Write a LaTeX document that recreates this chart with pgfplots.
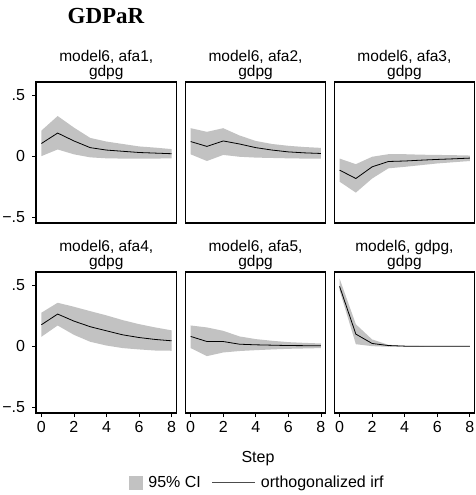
\documentclass[border=0pt]{standalone}
\usepackage{pgfplots}
\pgfplotsset{compat=1.18}
\usepackage{fontspec}
\setmainfont{Liberation Sans}
\newfontfamily\titlefont{Liberation Serif}
\definecolor{cigray}{RGB}{194,194,194}

\pgfplotsset{
  irfpanel/.style={
    scale only axis, width=140.5pt, height=141pt,
    anchor=north west,
    xmin=-0.33, xmax=8.3, ymin=-0.55, ymax=0.61,
    axis line style={black, line width=1.1pt},
    tick style={black, line width=0.8pt},
    major tick length=4pt, tick align=outside, tick pos=left,
    /pgf/number format/assume math mode=true,
    ticklabel style={font=\fontsize{16}{16}\selectfont},
    title style={font=\fontsize{15.5}{15}\selectfont, align=center,
      at={(0.5,1)}, anchor=south, inner sep=0pt, yshift=-3.5pt},
    xtick=\empty, ytick=\empty,
  },
  leftcol/.style={ytick={-0.5,0,0.5}, yticklabels={−.5,0,.5},
    yticklabel style={xshift=-3.5pt}},
  bottomrow/.style={xtick={0,2,4,6,8}, xticklabels={0,2,4,6,8},
    xticklabel style={yshift=-1pt}},
  band/.style={fill=cigray, draw=none,
    legend image code/.code={\fill[cigray] (0pt,-7pt) rectangle (14pt,7pt);}},
  irf/.style={black, line width=0.8pt,
    legend image code/.code={\draw[black!70, line width=1pt] (0pt,0pt) -- (43pt,0pt);}},
}

\begin{document}
\begin{tikzpicture}
\path[use as bounding box] (0,0) rectangle (475pt,-495pt);
\node[anchor=base] at (106pt,-23.3pt) {\titlefont\bfseries\fontsize{23}{23}\selectfont GDPaR};

% afa1
\begin{axis}[irfpanel, leftcol, at={(36pt,-82pt)}, title={model6, afa1,\\gdpg}]
\addplot[band] coordinates {(0,0.210) (1,0.330) (2,0.235) (3,0.150) (4,0.120) (5,0.100) (6,0.080) (7,0.070) (8,0.058)
  (8,-0.018) (7,-0.020) (6,-0.020) (5,-0.020) (4,-0.018) (3,-0.010) (2,0.015) (1,0.055) (0,0.000)} -- cycle;
\addplot[irf] coordinates {(0,0.104) (1,0.190) (2,0.125) (3,0.070) (4,0.050) (5,0.040) (6,0.030) (7,0.025) (8,0.020)};
\end{axis}

% afa2
\begin{axis}[irfpanel, at={(185.3pt,-82pt)}, title={model6, afa2,\\gdpg}]
\addplot[band] coordinates {(0,0.230) (1,0.200) (2,0.230) (3,0.170) (4,0.125) (5,0.100) (6,0.085) (7,0.075) (8,0.068)
  (8,-0.020) (7,-0.020) (6,-0.018) (5,-0.015) (4,-0.012) (3,-0.005) (2,0.010) (1,-0.040) (0,0.015)} -- cycle;
\addplot[irf] coordinates {(0,0.120) (1,0.080) (2,0.125) (3,0.100) (4,0.070) (5,0.050) (6,0.035) (7,0.027) (8,0.022)};
\end{axis}

% afa3
\begin{axis}[irfpanel, at={(334.2pt,-82pt)}, title={model6, afa3,\\gdpg}]
\addplot[band] coordinates {(0,-0.020) (1,-0.066) (2,-0.005) (3,0.016) (4,0.016) (5,0.012) (6,0.010) (7,0.008) (8,0.005)
  (8,-0.040) (7,-0.050) (6,-0.060) (5,-0.074) (4,-0.088) (3,-0.100) (2,-0.184) (1,-0.300) (0,-0.210)} -- cycle;
\addplot[irf] coordinates {(0,-0.115) (1,-0.184) (2,-0.088) (3,-0.044) (4,-0.040) (5,-0.033) (6,-0.027) (7,-0.022) (8,-0.016)};
\end{axis}

% afa4
\begin{axis}[irfpanel, leftcol, bottomrow, at={(36pt,-272pt)}, title={model6, afa4,\\gdpg}]
\addplot[band] coordinates {(0,0.275) (1,0.357) (2,0.324) (3,0.288) (4,0.253) (5,0.214) (6,0.181) (7,0.154) (8,0.130)
  (8,-0.038) (7,-0.036) (6,-0.027) (5,-0.016) (4,0.005) (3,0.036) (2,0.093) (1,0.170) (0,0.077)} -- cycle;
\addplot[irf] coordinates {(0,0.176) (1,0.264) (2,0.206) (3,0.160) (4,0.126) (5,0.093) (6,0.071) (7,0.055) (8,0.044)};
\end{axis}

% afa5
\begin{axis}[irfpanel, bottomrow, at={(185.3pt,-272pt)}, title={model6, afa5,\\gdpg},
  legend style={at={(0.514,-0.494)}, anchor=center, draw=none, fill=none,
    legend columns=2, font=\fontsize{16}{16}\selectfont,
    /tikz/every odd column/.append style={column sep=3pt},
    /tikz/every even column/.append style={column sep=9pt}},
  legend cell align=left]
\addplot[band] coordinates {(0,0.170) (1,0.154) (2,0.126) (3,0.080) (4,0.058) (5,0.044) (6,0.033) (7,0.027) (8,0.022)
  (8,-0.016) (7,-0.019) (6,-0.022) (5,-0.027) (4,-0.033) (3,-0.040) (2,-0.052) (1,-0.082) (0,-0.016)} -- cycle;
\addplot[irf] coordinates {(0,0.080) (1,0.038) (2,0.038) (3,0.016) (4,0.011) (5,0.008) (6,0.005) (7,0.004) (8,0.003)};
\legend{95\% CI, orthogonalized irf}
\end{axis}

% gdpg
\begin{axis}[irfpanel, bottomrow, at={(334.2pt,-272pt)}, title={model6, gdpg,\\gdpg}]
\addplot[band] coordinates {(0,0.556) (1,0.180) (2,0.055) (3,0.011) (4,0.003) (5,0.001) (6,0.000) (7,0.000) (8,0.000)
  (8,-0.000) (7,-0.000) (6,-0.000) (5,-0.001) (4,-0.002) (3,-0.005) (2,0.000) (1,0.016) (0,0.460)} -- cycle;
\addplot[irf] coordinates {(0,0.492) (1,0.099) (2,0.022) (3,0.005) (4,0.000) (5,0.000) (6,0.000) (7,0.000) (8,0.000)};
\end{axis}

\node[anchor=base, font=\fontsize{16}{16}\selectfont] at (258pt,-462pt) {Step};
\end{tikzpicture}
\end{document}
